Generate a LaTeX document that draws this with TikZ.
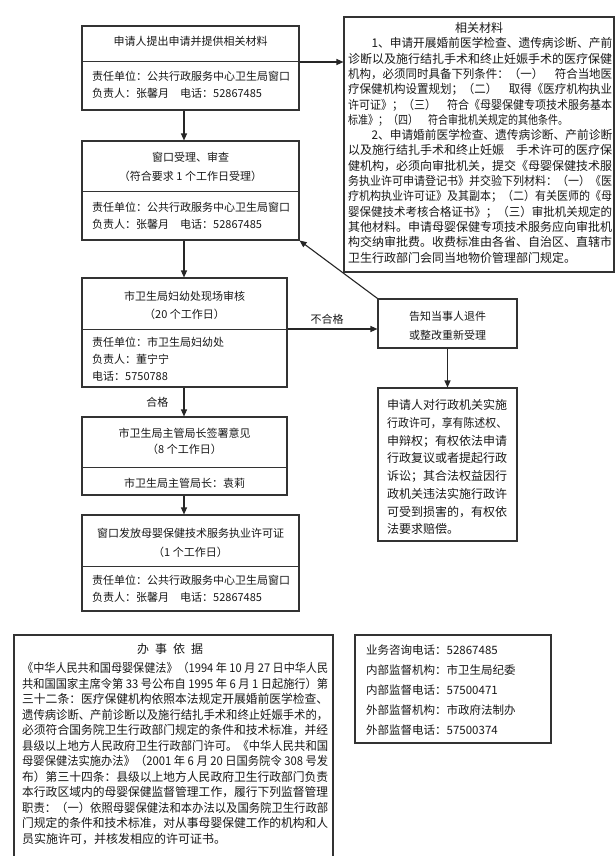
\documentclass[tikz,border=0pt]{standalone}
\usepackage{fontspec}
\setmainfont{Noto Sans CJK SC}
\usepackage{graphicx}
\usetikzlibrary{arrows.meta}
\newcommand\J[2]{\resizebox{#1}{\height}{#2}}
\newcommand\fsz[2]{\fontsize{#1}{#2}\selectfont}
\begin{document}
\begin{tikzpicture}[x=1pt,y=-1pt,
  boxst/.style={draw=black!80,line width=1.1pt,inner sep=0,fill=none},
  divst/.style={draw=black!80,line width=1pt},
  arr/.style={draw=black!85,line width=1.1pt,-{Triangle[length=7pt,width=6pt]}},
  t/.style={inner sep=0,text=black!90},
  ttl/.style={t,align=center,font=\fsz{11}{19}},
  low/.style={t,align=left,anchor=north west,font=\fsz{11}{17}}]
\path[use as bounding box,fill=white] (0,0) rectangle (615,856);

% helper coordinates
\coordinate (ax) at (184,0);
\coordinate (d1) at (0,62);
\coordinate (d3) at (0,329);

% boxes
\node[boxst,minimum width=217pt,minimum height=84pt] (b1) at (190.5,68) {};
\node[boxst,minimum width=217pt,minimum height=99pt] (b2) at (190.5,190.5) {};
\node[boxst,minimum width=205pt,minimum height=109pt] (b3) at (184.5,332.5) {};
\node[boxst,minimum width=205pt,minimum height=78pt] (b4) at (184.5,456) {};
\node[boxst,minimum width=217pt,minimum height=96pt] (b5) at (190.5,563) {};
\node[boxst,minimum width=139pt,minimum height=49pt] (notify) at (447.5,323.5) {};
\node[boxst,minimum width=139pt,minimum height=153pt] (rights) at (447.5,464.5) {};
\node[boxst,minimum width=270pt,minimum height=255pt] (rbox) at (479,144.5) {};
\node[boxst,minimum width=319pt,minimum height=227pt] (basis) at (173.5,748.5) {};
\node[boxst,minimum width=196pt,minimum height=108pt] (contact) at (453,689) {};

% dividers
\draw[divst] (82,62) -- (299,62);
\draw[divst] (82,191) -- (299,191);
\draw[divst] (82,329) -- (287,329);
\draw[divst] (82,467) -- (287,467);
\draw[divst] (82,566) -- (299,566);

% box 1
\node[t,font=\fsz{11}{13}] (b1t) at (190.5,41) {申请人提出申请并提供相关材料};
\node[low] (b1l) at (92,71) {责任单位：公共行政服务中心卫生局窗口\\负责人：张馨月　电话：52867485};
% box 2
\node[ttl] (b2t) at (190.5,166.5) {窗口受理、审查\\（符合要求 1 个工作日受理）};
\node[low] (b2l) at (92,202) {责任单位：公共行政服务中心卫生局窗口\\负责人：张馨月　电话：52867485};
% box 3
\node[ttl,font=\fsz{11}{18}] (b3t) at (184.5,305) {市卫生局妇幼处现场审核\\（20 个工作日）};
\node[low] (b3l) at (92,337) {责任单位：市卫生局妇幼处\\负责人：董宁宁\\电话：5750788};
% box 4
\node[ttl,font=\fsz{11}{16}] (b4t) at (184.5,441) {市卫生局主管局长签署意见\\（8 个工作日）};
\node[t,font=\fsz{11}{13}] (b4l) at (184.5,483) {市卫生局主管局长：袁莉};
% box 5
\node[ttl] (b5t) at (190.5,542.5) {窗口发放母婴保健技术服务执业许可证\\（1 个工作日）};
\node[low] (b5l) at (92,575) {责任单位：公共行政服务中心卫生局窗口\\负责人：张馨月　电话：52867485};

% notify
\node[ttl] (nt) at (447.5,325.5) {告知当事人退件\\或整改重新受理};
% rights
\node[t,align=left,anchor=north west,font=\fsz{12}{17.7}] (rt) at (387,399.5) {%
申请人对行政机关实施\\
\J{120pt}{行政许可，享有陈述权、}\\
申辩权；有权依法申请\\
行政复议或者提起行政\\
诉讼；其合法权益因行\\
政机关违法实施行政许\\
可受到损害的，有权依\\
法要求赔偿。};

% related materials
\node[t,font=\fsz{12}{14}] (rtt) at (479,27.5) {相关材料};
\node[t,align=left,anchor=north west,font=\fsz{12}{15.3}] (rtx) at (348,37.5) {%
\J{264pt}{　　1、申请开展婚前医学检查、遗传病诊断、产前}\\
\J{264pt}{诊断以及施行结扎手术和终止妊娠手术的医疗保健}\\
\J{264pt}{机构，必须同时具备下列条件：（一）　符合当地医}\\
\J{264pt}{疗保健机构设置规划；（二）　取得《医疗机构执业}\\
\J{264pt}{许可证》；（三）　符合《母婴保健专项技术服务基本}\\
\J{220pt}{标准》；（四）　符合审批机关规定的其他条件。}\\
\J{264pt}{　　2、申请婚前医学检查、遗传病诊断、产前诊断}\\
\J{264pt}{以及施行结扎手术和终止妊娠　手术许可的医疗保}\\
\J{264pt}{健机构，必须向审批机关，提交《母婴保健技术服}\\
\J{264pt}{务执业许可申请登记书》并交验下列材料：（一）《医}\\
\J{264pt}{疗机构执业许可证》及其副本；（二）有关医师的《母}\\
\J{264pt}{婴保健技术考核合格证书》；（三）审批机关规定的}\\
\J{264pt}{其他材料。申请母婴保健专项技术服务应向审批机}\\
\J{264pt}{构交纳审批费。收费标准由各省、自治区、直辖市}\\
卫生行政部门会同当地物价管理部门规定。};

% basis
\node[t,font=\fsz{12}{14}] (bst) at (170,649) {办\hspace{6pt}事\hspace{6pt}依\hspace{6pt}据};
\node[t,align=left,anchor=north west,font=\fsz{12}{15.5}] (bsx) at (22,662.5) {%
\J{306pt}{《中华人民共和国母婴保健法》（1994 年 10 月 27 日中华人民}\\
\J{306pt}{共和国国家主席令第 33 号公布自 1995 年 6 月 1 日起施行）第}\\
\J{306pt}{三十二条：医疗保健机构依照本法规定开展婚前医学检查、}\\
\J{306pt}{遗传病诊断、产前诊断以及施行结扎手术和终止妊娠手术的，}\\
\J{306pt}{必须符合国务院卫生行政部门规定的条件和技术标准，并经}\\
\J{306pt}{县级以上地方人民政府卫生行政部门许可。《中华人民共和国}\\
\J{306pt}{母婴保健法实施办法》（2001 年 6 月 20 日国务院令 308 号发}\\
\J{306pt}{布）第三十四条：县级以上地方人民政府卫生行政部门负责}\\
\J{306pt}{本行政区域内的母婴保健监督管理工作，履行下列监督管理}\\
\J{306pt}{职责：（一）依照母婴保健法和本办法以及国务院卫生行政部}\\
\J{306pt}{门规定的条件和技术标准，对从事母婴保健工作的机构和人}\\
员实施许可，并核发相应的许可证书。};

% contact
\node[t,align=left,anchor=north west,font=\fsz{11.5}{20}] (ctx) at (366,644.5) {%
业务咨询电话：52867485\\
内部监督机构：市卫生局纪委\\
内部监督电话：57500471\\
外部监督机构：市政府法制办\\
外部监督电话：57500374};

% connectors
\draw[arr] (b1.south -| ax) -- (b2.north -| ax);
\draw[arr] (b2.south -| ax) -- (b3.north -| ax);
\draw[arr] (b3.south -| ax) -- (b4.north -| ax) node[t,midway,left=15pt,font=\fsz{11}{13}] (lhg) {合格};
\draw[arr] (b4.south -| ax) -- (b5.north -| ax);
\draw[arr] (b1.east |- d1) -- (rbox.west |- d1);
\draw[arr] (b3.east |- d3) -- (notify.west |- d3) node[t,pos=0.44,above=4pt,font=\fsz{11}{13}] (lbhg) {不合格};
\draw[arr] (notify.north west) -- (b2.south east);
\draw[arr] (notify.south) -- (rights.north);
\end{tikzpicture}
\end{document}
